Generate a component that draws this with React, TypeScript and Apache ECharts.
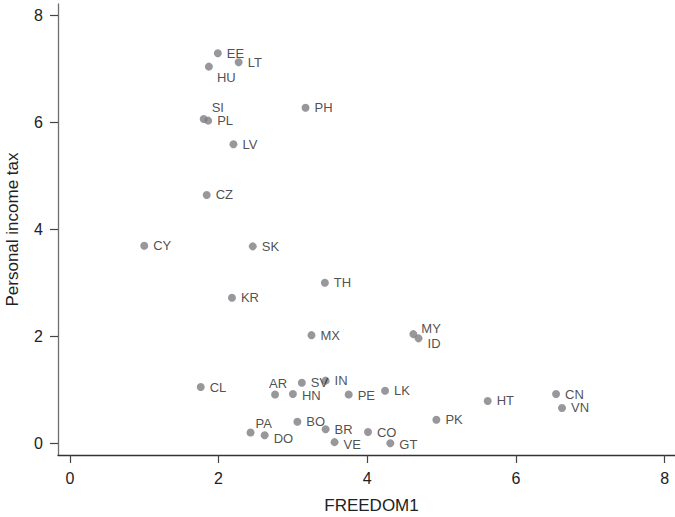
import React, { useEffect, useRef } from "react";
import * as echarts from "echarts";

const countries = ["EE","LT","HU","SI","PL","PH","LV","CZ","CY","SK","TH","KR","MX","MY","ID","LK","HT","CN","VN","PK","CL","AR","HN","SV","IN","PE","PA","DO","BO","BR","VE","CO","GT"];
const freedom = [1.99,2.27,1.87,1.80,1.86,3.17,2.20,1.84,1.00,2.46,3.43,2.18,3.25,4.62,4.69,4.24,5.62,6.54,6.62,4.93,1.76,2.76,3.00,3.12,3.44,3.75,2.43,2.62,3.06,3.44,3.56,4.01,4.31];
const incomeTax = [7.29,7.12,7.04,6.06,6.03,6.27,5.59,4.64,3.69,3.68,3.00,2.72,2.02,2.04,1.96,0.98,0.79,0.92,0.66,0.44,1.05,0.91,0.92,1.13,1.17,0.91,0.20,0.15,0.40,0.26,0.02,0.21,0.00];
const xTicks = [0, 2, 4, 6, 8];
const yTicks = [0, 2, 4, 6, 8];

// label placement tweaks (relative to default "right" placement)
const labelOffsets: Record<string, [number, number]> = {
  HU: [-1, 11],
  SI: [-1, -12],
  AR: [-15, -11],
  MY: [-1, -6],
  ID: [0, 5],
  PA: [-4, -9],
  DO: [0, 3],
  VE: [0, 2],
  GT: [0, 1],
  CO: [0, 1],
  HN: [0, 1],
  PE: [0, 1],
};

const FONT = "'Liberation Sans', Arial, Helvetica, sans-serif";

export default function App() {
  const ref = useRef<HTMLDivElement>(null);
  useEffect(() => {
    if (!ref.current) return;
    const chart = echarts.init(ref.current, undefined, { renderer: "svg" });
    const data = countries.map((c, i) => ({
      name: c,
      value: [freedom[i], incomeTax[i]],
    }));
    chart.setOption({
      animation: false,
      backgroundColor: "#ffffff",
      grid: { left: 58, right: 0, top: 4, bottom: 62, containLabel: false, outerBoundsMode: "none" },
      xAxis: {
        type: "value",
        min: -0.16,
        max: 8.14,
        name: "FREEDOM1",
        nameLocation: "middle",
        nameGap: 42,
        nameTextStyle: { fontFamily: FONT, fontSize: 17, color: "#222", padding: [0, 0, 0, 10] },
        splitLine: { show: false },
        axisLine: { show: true, onZero: false, lineStyle: { color: "#333", width: 1.3 } },
        axisTick: { show: true, length: 8, customValues: xTicks, lineStyle: { color: "#444", width: 1.2 } },
        axisLabel: { customValues: xTicks, margin: 15, fontFamily: FONT, fontSize: 16, color: "#222" },
      },
      yAxis: {
        type: "value",
        min: -0.22,
        max: 8.21,
        name: "Personal income tax",
        nameLocation: "middle",
        nameGap: 37,
        nameTextStyle: { fontFamily: FONT, fontSize: 17, color: "#222" },
        splitLine: { show: false },
        axisLine: { show: true, onZero: false, lineStyle: { color: "#6e6e6e", width: 1.3 } },
        axisTick: { show: true, length: 8, customValues: yTicks, lineStyle: { color: "#444", width: 1.2 } },
        axisLabel: { customValues: yTicks, margin: 15, fontFamily: FONT, fontSize: 16, color: "#222" },
      },
      series: [
        {
          type: "scatter",
          symbol: "circle",
          symbolSize: 8,
          itemStyle: { color: "#7d7d83" },
          label: {
            show: true,
            position: "right",
            distance: 5,
            formatter: "{b}",
            fontFamily: FONT,
            fontSize: 13,
            color: "#222",
          },
          labelLayout: (params: any) => {
            const c = countries[params.dataIndex];
            const off = labelOffsets[c];
            if (!off) return { hideOverlap: false };
            return { dx: off[0], dy: off[1], hideOverlap: false };
          },
          data,
        },
      ],
    });
    return () => chart.dispose();
  }, []);
  return (
    <div
      ref={ref}
      style={{ position: "fixed", left: 0, top: 0, width: 675, height: 517 }}
    />
  );
}
